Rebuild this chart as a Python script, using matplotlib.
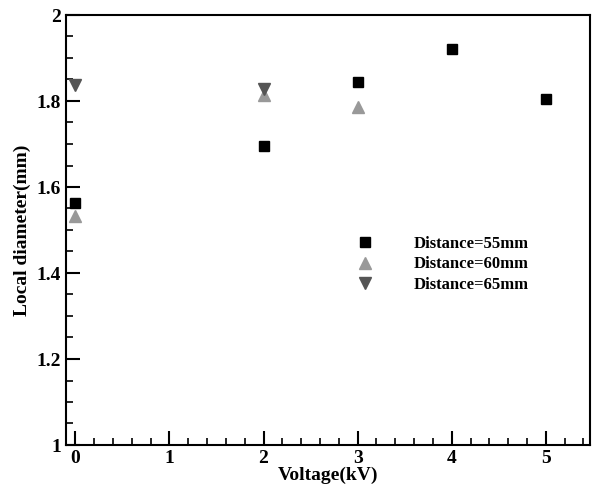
import matplotlib.pyplot as plt
from matplotlib.ticker import MultipleLocator

voltage_55 = [0, 2, 3, 4, 5]
diam_55 = [1.563, 1.696, 1.845, 1.920, 1.805]
voltage_60 = [0, 2, 3]
diam_60 = [1.533, 1.814, 1.785]
voltage_65 = [0, 2]
diam_65 = [1.837, 1.827]

plt.rcParams['font.family'] = 'Liberation Serif'
plt.rcParams['font.weight'] = 'bold'

fig = plt.figure(figsize=(5.95, 4.86), dpi=100)
ax = fig.add_axes([66/595, 41/486, 524/595, 430/486])

ax.plot(voltage_55, diam_55, 's', color='black', ms=7.5, ls='none', label='Distance=55mm')
ax.plot(voltage_60, diam_60, '^', color='#999999', ms=8.5, ls='none', label='Distance=60mm')
ax.plot(voltage_65, diam_65, 'v', color='#555555', ms=8.5, ls='none', label='Distance=65mm')

ax.set_xlim(-0.1, 5.47)
ax.set_ylim(1, 2)
ax.xaxis.set_major_locator(MultipleLocator(1))
ax.xaxis.set_minor_locator(MultipleLocator(0.2))
ax.yaxis.set_major_locator(MultipleLocator(0.2))
ax.yaxis.set_minor_locator(MultipleLocator(0.05))
ax.yaxis.set_major_formatter(plt.FuncFormatter(lambda v, p: '%g' % round(v, 2)))
ax.tick_params(which='major', direction='in', length=10, width=1.5, labelsize=14)
ax.tick_params(which='minor', direction='in', length=5, width=1.2)
for s in ax.spines.values():
    s.set_linewidth(1.5)

ax.set_xlabel('Voltage(kV)', fontsize=14, fontweight='bold', labelpad=0)
ax.set_ylabel('Local diameter(mm)', fontsize=14, fontweight='bold', labelpad=4)

ax.legend(loc='upper left', bbox_to_anchor=(0.527, 0.501), frameon=False,
          prop={'size': 12, 'weight': 'bold'}, handletextpad=1.9, labelspacing=0.25,
          borderaxespad=0)

fig.savefig('out.png', dpi=100)
